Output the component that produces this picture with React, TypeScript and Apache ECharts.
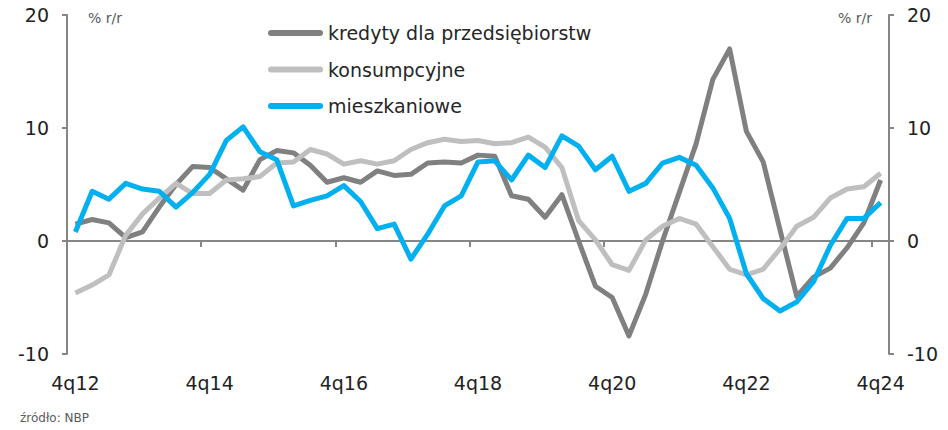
import React, { useEffect, useRef } from "react";
import * as echarts from "echarts";

const categories: string[] = [
  "4q12",
  "1q13", "2q13", "3q13", "4q13",
  "1q14", "2q14", "3q14", "4q14",
  "1q15", "2q15", "3q15", "4q15",
  "1q16", "2q16", "3q16", "4q16",
  "1q17", "2q17", "3q17", "4q17",
  "1q18", "2q18", "3q18", "4q18",
  "1q19", "2q19", "3q19", "4q19",
  "1q20", "2q20", "3q20", "4q20",
  "1q21", "2q21", "3q21", "4q21",
  "1q22", "2q22", "3q22", "4q22",
  "1q23", "2q23", "3q23", "4q23",
  "1q24", "2q24", "3q24", "4q24",
];

const seriesNames = ["kredyty dla przedsiębiorstw", "konsumpcyjne", "mieszkaniowe"];

const kredyty: number[] = [
  1.5, 1.9, 1.6, 0.3, 0.8, 3.0, 5.0, 6.6, 6.5, 5.5,
  4.5, 7.2, 8.0, 7.8, 6.7, 5.2, 5.6, 5.2, 6.2, 5.8,
  5.9, 6.9, 7.0, 6.9, 7.6, 7.5, 4.0, 3.7, 2.1, 4.1,
  0.0, -4.0, -5.0, -8.4, -4.7, 0.0, 4.3, 8.6, 14.3, 17.0,
  9.7, 7.0, 1.0, -4.9, -3.2, -2.4, -0.6, 1.6, 5.4,
];

const konsumpcyjne: number[] = [
  -4.6, -3.9, -3.0, 0.5, 2.4, 3.8, 5.1, 4.2, 4.2, 5.4,
  5.5, 5.7, 6.9, 7.0, 8.1, 7.7, 6.8, 7.1, 6.8, 7.1,
  8.1, 8.7, 9.0, 8.8, 8.9, 8.6, 8.7, 9.2, 8.3, 6.5,
  1.8, 0.1, -2.1, -2.6, 0.1, 1.3, 2.0, 1.5, -0.5, -2.5,
  -3.0, -2.5, -0.7, 1.3, 2.1, 3.8, 4.6, 4.8, 6.0,
];

const mieszkaniowe: number[] = [
  0.8, 4.4, 3.7, 5.1, 4.6, 4.4, 3.0, 4.3, 5.9, 8.9,
  10.1, 7.9, 7.2, 3.1, 3.6, 4.0, 4.9, 3.5, 1.1, 1.5,
  -1.6, 0.6, 3.1, 4.0, 7.0, 7.1, 5.4, 7.6, 6.5, 9.3,
  8.4, 6.3, 7.5, 4.4, 5.1, 6.9, 7.4, 6.7, 4.7, 2.0,
  -2.9, -5.1, -6.2, -5.4, -3.6, -0.4, 2.0, 2.0, 3.4,
];

const colors = ["#808080", "#BFBFBF", "#00B0F0"];
const FONT = "'DejaVu Sans', sans-serif";

export default function App() {
  const ref = useRef<HTMLDivElement>(null);

  useEffect(() => {
    if (!ref.current) return;
    const chart = echarts.init(ref.current, null, { renderer: "svg" });
    const axisColor = "#868686";
    const yAxisCommon = {
      type: "value",
      min: -10,
      max: 20,
      interval: 10,
      splitLine: { show: false },
      axisLine: { show: true, lineStyle: { color: axisColor, width: 2 } },
      axisTick: { show: true, length: 5, lineStyle: { color: axisColor, width: 2 } },
      axisLabel: { fontSize: 19, color: "#222", fontFamily: FONT, margin: 18 },
    };
    const seriesData = [kredyty, konsumpcyjne, mieszkaniowe];
    chart.setOption({
      animation: false,
      color: colors,
      textStyle: { fontFamily: FONT },
      grid: { left: 67, right: 59, top: 15, bottom: 76, containLabel: false },
      legend: {
        orient: "vertical",
        left: 263,
        top: 18,
        itemWidth: 55,
        itemHeight: 6,
        itemGap: 16.5,
        icon: "path://M3,0 H52 A3,3 0 0 1 52,6 H3 A3,3 0 0 1 3,0 Z",
        data: seriesNames,
        textStyle: { fontSize: 19, color: "#262626", fontFamily: FONT, lineHeight: 20 },
      },
      xAxis: [
        {
          type: "category",
          data: categories,
          boundaryGap: true,
          position: "bottom",
          axisLine: { show: true, onZero: true, lineStyle: { color: axisColor, width: 2 } },
          axisTick: { show: true, interval: 7, length: 6, lineStyle: { color: axisColor, width: 2 } },
          axisLabel: { show: false },
        },
        {
          type: "category",
          data: categories,
          boundaryGap: true,
          position: "bottom",
          axisLine: { show: false, onZero: false },
          axisTick: { show: false },
          axisLabel: { interval: 7, fontSize: 19, color: "#222", fontFamily: FONT, margin: 19 },
        },
      ],
      yAxis: [
        { ...yAxisCommon, position: "left" },
        { ...yAxisCommon, position: "right" },
      ],
      series: seriesNames.map((name, i) => ({
        name,
        type: "line",
        data: seriesData[i],
        xAxisIndex: 0,
        yAxisIndex: 0,
        symbol: "none",
        showSymbol: false,
        lineStyle: { width: 5, color: colors[i], join: "round" },
        itemStyle: { color: colors[i] },
      })),
      graphic: [
        {
          type: "text",
          left: 88,
          top: 11,
          style: { text: "% r/r", fontSize: 14, fill: "#595959", fontFamily: FONT },
        },
        {
          type: "text",
          left: 838,
          top: 11,
          style: { text: "% r/r", fontSize: 14, fill: "#595959", fontFamily: FONT },
        },
        {
          type: "text",
          left: 20,
          top: 412,
          style: { text: "źródło: NBP", fontSize: 12, fill: "#595959", fontFamily: FONT },
        },
      ],
    });
    return () => chart.dispose();
  }, []);

  return (
    <div
      ref={ref}
      style={{ position: "fixed", left: 0, top: 0, width: 948, height: 430, background: "#fff" }}
    />
  );
}
